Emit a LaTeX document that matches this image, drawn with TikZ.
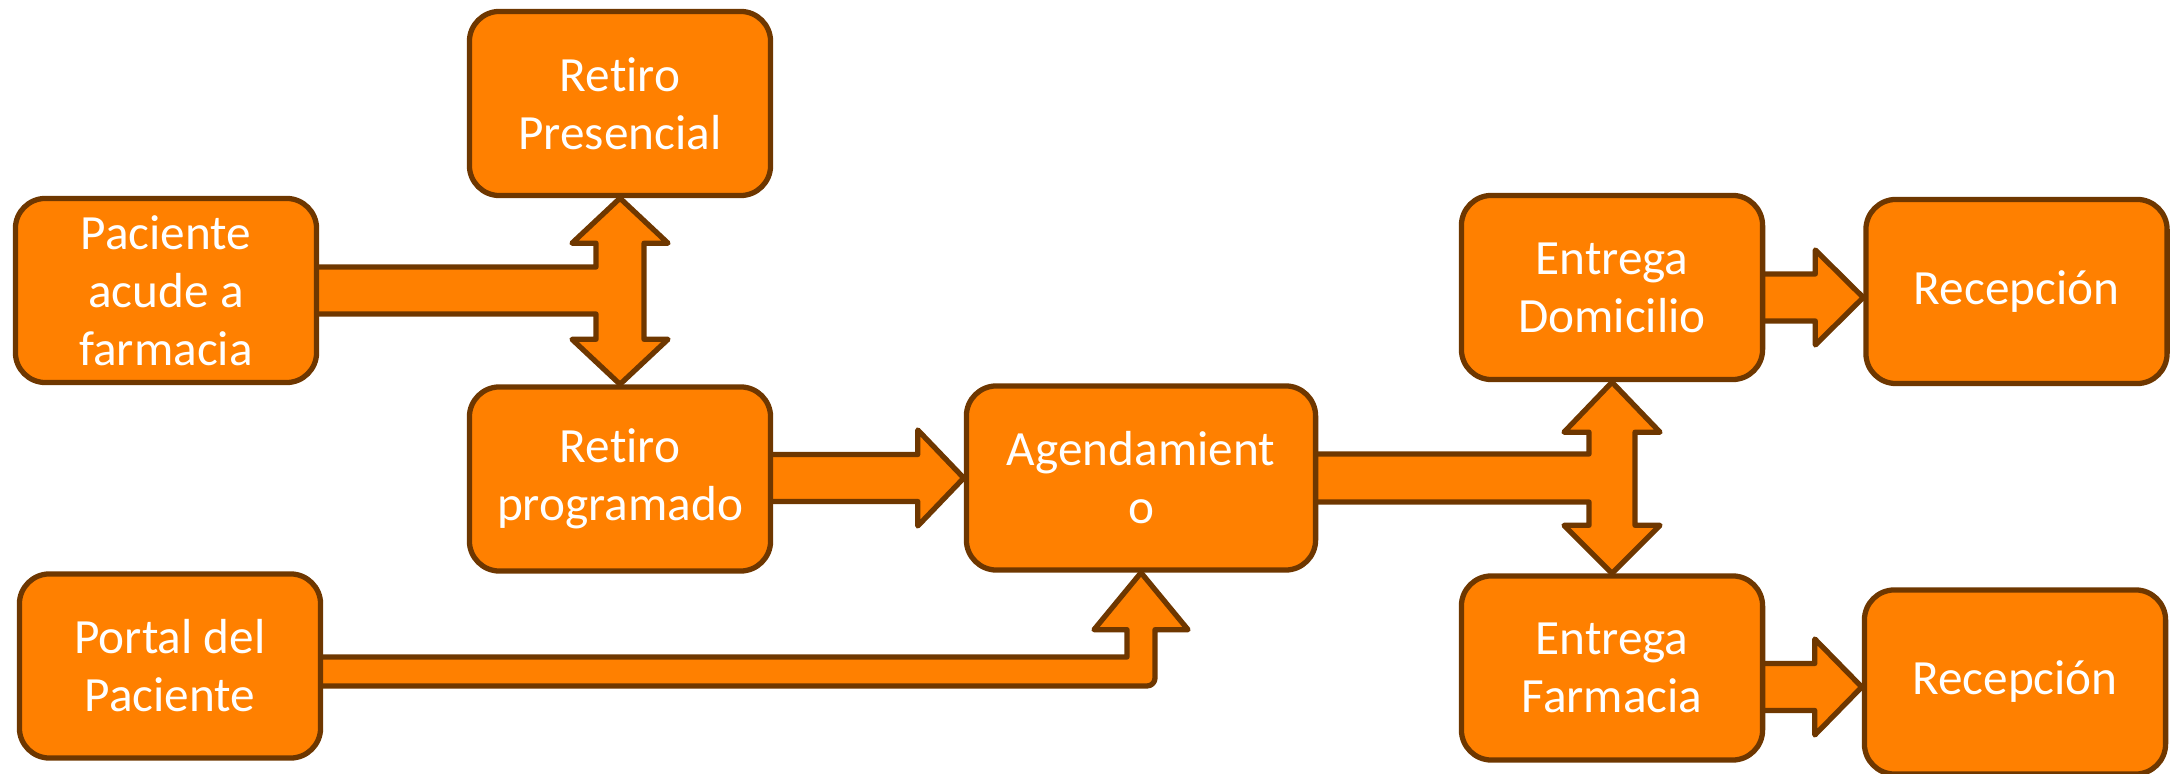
\documentclass[tikz,border=0pt]{standalone}
\usepackage{fontspec}
\setmainfont{Carlito}[Ligatures=NoCommon]
\usetikzlibrary{calc}
\definecolor{boxfill}{RGB}{255,128,0}
\definecolor{boxline}{RGB}{110,55,0}
\pgfdeclarelayer{bg}
\pgfsetlayers{bg,main}
\begin{document}
\begin{tikzpicture}[x=0.01cm,y=-0.01cm,
  card/.style={draw=boxline, fill=boxfill, line width=1.5pt, rounded corners=0.3cm,
    minimum width=3.01cm, minimum height=1.84cm, inner sep=0pt, align=center,
    text=white, font=\fontsize{14}{16.5}\selectfont},
  blockarrow/.style={draw=boxline, fill=boxfill, line width=1.5pt, line join=round}]
\useasboundingbox (0,0) rectangle (2182,774);

\node[card] (A) at (620,103.5) {Retiro\\Presencial};
\node[card] (B) at (166,290.5) {Paciente\\acude a\\farmacia};
\node[card] (C) at (620,479) {Retiro\\programado};
\node[card] (D) at (170,666) {Portal del\\Paciente};
\node[card, minimum width=3.49cm] (E) at (1141,478) {Agendamient\\o};
\node[card] (F) at (1612,287.5) {Entrega\\Domicilio};
\node[card] (G) at (1612,668) {Entrega\\Farmacia};
\node[card] (H) at (2016.5,291.5) {Recepción};
\node[card] (I) at (2015,682) {Recepción};

\coordinate (h) at ($(H.west)+(0,6)$);
\coordinate (i) at ($(I.west)+(0,5)$);

\begin{pgfonlayer}{bg}
% Paciente -> Retiro Presencial / Retiro programado
\draw[blockarrow] ($(B.east)+(-10,-23.5)$) -- ($(A.south|-B.east)+(-24,-23.5)$)
  -- ($(A.south)+(-24,45)$) -- ($(A.south)+(-48,45)$) -- (A.south)
  -- ($(A.south)+(48,45)$) -- ($(A.south)+(24,45)$)
  -- ($(C.north)+(24,-45)$) -- ($(C.north)+(48,-45)$) -- (C.north)
  -- ($(C.north)+(-48,-45)$) -- ($(C.north)+(-24,-45)$)
  -- ($(A.south|-B.east)+(-24,23.5)$) -- ($(B.east)+(-10,23.5)$) -- cycle;
% Retiro programado -> Agendamiento
\draw[blockarrow] ($(C.east|-E.west)+(-10,-23.5)$) -- ($(E.west)+(-46,-23.5)$)
  -- ($(E.west)+(-46,-48)$) -- (E.west) -- ($(E.west)+(-46,48)$)
  -- ($(E.west)+(-46,23.5)$) -- ($(C.east|-E.west)+(-10,23.5)$) -- cycle;
% Portal -> Agendamiento
\draw[blockarrow] ($(D.east)+(-10,-9)$) -- ($(E.south|-D.east)+(-14,-9)$)
  -- ($(E.south)+(-14,57)$) -- ($(E.south)+(-47,57)$) -- (E.south)
  -- ($(E.south)+(47,57)$) -- ($(E.south)+(14,57)$) [rounded corners=0.08cm]
  -- ($(E.south|-D.east)+(14,20)$) -- ($(D.east)+(-10,20)$) [sharp corners] -- cycle;
% Agendamiento -> Entrega Domicilio / Entrega Farmacia
\draw[blockarrow] ($(E.east)+(-10,-24)$) -- ($(F.south|-E.east)+(-23,-24)$)
  -- ($(F.south)+(-23,50)$) -- ($(F.south)+(-48,50)$) -- (F.south)
  -- ($(F.south)+(48,50)$) -- ($(F.south)+(23,50)$)
  -- ($(G.north)+(23,-48)$) -- ($(G.north)+(48,-48)$) -- (G.north)
  -- ($(G.north)+(-48,-48)$) -- ($(G.north)+(-23,-48)$)
  -- ($(F.south|-E.east)+(-23,24)$) -- ($(E.east)+(-10,24)$) -- cycle;
% Entrega Domicilio -> Recepcion
\draw[blockarrow] ($(F.east|-h)+(-10,-23.5)$) -- ($(h)+(-48,-23.5)$)
  -- ($(h)+(-48,-47.5)$) -- (h) -- ($(h)+(-48,47.5)$)
  -- ($(h)+(-48,23.5)$) -- ($(F.east|-h)+(-10,23.5)$) -- cycle;
% Entrega Farmacia -> Recepcion
\draw[blockarrow] ($(G.east|-i)+(-10,-23.5)$) -- ($(i)+(-47,-23.5)$)
  -- ($(i)+(-47,-48)$) -- (i) -- ($(i)+(-47,48)$)
  -- ($(i)+(-47,23.5)$) -- ($(G.east|-i)+(-10,23.5)$) -- cycle;
\end{pgfonlayer}
\end{tikzpicture}
\end{document}
